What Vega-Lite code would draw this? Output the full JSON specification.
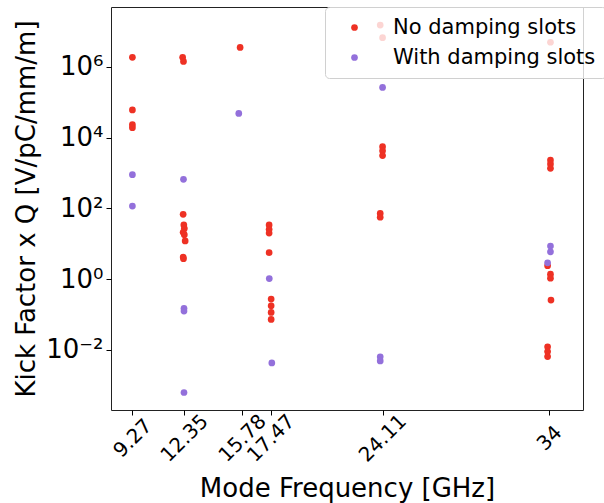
{
  "$schema": "https://vega.github.io/schema/vega-lite/v6.json",
  "width": 472,
  "height": 403,
  "autosize": {"type": "none"},
  "padding": {"left": 111, "top": 7, "right": 21, "bottom": 93},
  "background": "white",
  "config": {
    "font": "DejaVu Sans",
    "view": {"stroke": "#222", "strokeWidth": 1}
  },
  "data": {
    "values": [
      {"f": 9.27, "k": 1.84e6, "s": "No damping slots"},
      {"f": 9.27, "k": 6.0e4, "s": "No damping slots"},
      {"f": 9.27, "k": 2.3e4, "s": "No damping slots"},
      {"f": 9.27, "k": 1.9e4, "s": "No damping slots"},
      {"f": 12.25, "k": 1.84e6, "s": "No damping slots"},
      {"f": 12.3, "k": 1.41e6, "s": "No damping slots"},
      {"f": 12.28, "k": 68, "s": "No damping slots"},
      {"f": 12.32, "k": 34, "s": "No damping slots"},
      {"f": 12.35, "k": 27, "s": "No damping slots"},
      {"f": 12.28, "k": 21, "s": "No damping slots"},
      {"f": 12.35, "k": 18, "s": "No damping slots"},
      {"f": 12.4, "k": 12, "s": "No damping slots"},
      {"f": 12.28, "k": 4.2, "s": "No damping slots"},
      {"f": 12.3, "k": 3.8, "s": "No damping slots"},
      {"f": 15.66, "k": 3.5e6, "s": "No damping slots"},
      {"f": 17.38, "k": 34, "s": "No damping slots"},
      {"f": 17.38, "k": 25.5, "s": "No damping slots"},
      {"f": 17.38, "k": 20, "s": "No damping slots"},
      {"f": 17.38, "k": 5.6, "s": "No damping slots"},
      {"f": 17.5, "k": 0.274, "s": "No damping slots"},
      {"f": 17.5, "k": 0.177, "s": "No damping slots"},
      {"f": 17.5, "k": 0.115, "s": "No damping slots"},
      {"f": 17.5, "k": 0.073, "s": "No damping slots"},
      {"f": 23.97, "k": 1.5e7, "s": "No damping slots"},
      {"f": 24.11, "k": 6.6e6, "s": "No damping slots"},
      {"f": 24.11, "k": 5500, "s": "No damping slots"},
      {"f": 24.11, "k": 4200, "s": "No damping slots"},
      {"f": 24.11, "k": 3100, "s": "No damping slots"},
      {"f": 23.97, "k": 72, "s": "No damping slots"},
      {"f": 23.97, "k": 56, "s": "No damping slots"},
      {"f": 34.07, "k": 4.9e6, "s": "No damping slots"},
      {"f": 34.07, "k": 2300, "s": "No damping slots"},
      {"f": 34.07, "k": 1800, "s": "No damping slots"},
      {"f": 34.07, "k": 1350, "s": "No damping slots"},
      {"f": 33.9, "k": 2.4, "s": "No damping slots"},
      {"f": 34.07, "k": 1.38, "s": "No damping slots"},
      {"f": 34.07, "k": 1.07, "s": "No damping slots"},
      {"f": 34.1, "k": 0.257, "s": "No damping slots"},
      {"f": 33.9, "k": 0.0123, "s": "No damping slots"},
      {"f": 33.9, "k": 0.009, "s": "No damping slots"},
      {"f": 33.9, "k": 0.0065, "s": "No damping slots"},
      {"f": 9.27, "k": 890, "s": "With damping slots"},
      {"f": 9.27, "k": 116, "s": "With damping slots"},
      {"f": 12.3, "k": 660, "s": "With damping slots"},
      {"f": 12.33, "k": 0.15, "s": "With damping slots"},
      {"f": 12.33, "k": 0.126, "s": "With damping slots"},
      {"f": 12.33, "k": 0.00063, "s": "With damping slots"},
      {"f": 15.58, "k": 4.8e4, "s": "With damping slots"},
      {"f": 17.39, "k": 1.04, "s": "With damping slots"},
      {"f": 17.54, "k": 0.0043, "s": "With damping slots"},
      {"f": 24.11, "k": 2.6e5, "s": "With damping slots"},
      {"f": 23.97, "k": 0.0064, "s": "With damping slots"},
      {"f": 23.97, "k": 0.0049, "s": "With damping slots"},
      {"f": 34.07, "k": 8.6, "s": "With damping slots"},
      {"f": 34.07, "k": 5.9, "s": "With damping slots"},
      {"f": 33.9, "k": 2.9, "s": "With damping slots"}
    ]
  },
  "mark": {"type": "circle", "size": 45, "opacity": 1},
  "encoding": {
    "x": {
      "field": "f",
      "type": "quantitative",
      "scale": {"domain": [8.0, 36.0], "nice": false, "zero": false},
      "axis": {
        "values": [9.27, 12.35, 15.78, 17.47, 24.11, 34],
        "labelExpr": "datum.value + ''",
        "labelAngle": -45,
        "labelAlign": "center",
        "labelBaseline": "middle",
        "labelPadding": 23,
        "labelOverlap": false,
        "labelFontSize": 20,
        "labelColor": "#000",
        "tickColor": "#000",
        "tickSize": 5,
        "domain": false,
        "grid": false,
        "title": "Mode Frequency [GHz]",
        "titleFontSize": 26,
        "titleFontWeight": "normal",
        "titleColor": "#000",
        "titlePadding": 10
      }
    },
    "y": {
      "field": "k",
      "type": "quantitative",
      "scale": {"type": "log", "domain": [0.000202, 4.85e7], "nice": false},
      "axis": {
        "values": [0.01, 1, 100, 10000, 1000000],
        "labelExpr": "datum.value >= 1e6 ? '10⁶' : datum.value >= 1e4 ? '10⁴' : datum.value >= 100 ? '10²' : datum.value >= 1 ? '10⁰' : '10⁻²'",
        "labelFontSize": 26,
        "labelColor": "#000",
        "labelPadding": 3,
        "tickColor": "#000",
        "tickSize": 5,
        "domain": false,
        "grid": false,
        "title": "Kick Factor x Q [V/pC/mm/m]",
        "titleFontSize": 26,
        "titleFontWeight": "normal",
        "titleColor": "#000",
        "titlePadding": 6
      }
    },
    "color": {
      "field": "s",
      "type": "nominal",
      "scale": {"domain": ["No damping slots", "With damping slots"], "range": ["#ee3124", "#9370db"]},
      "legend": {
        "title": null,
        "orient": "none",
        "legendX": 214,
        "legendY": 0,
        "padding": 10,
        "symbolType": "circle",
        "symbolSize": 45,
        "symbolOffset": 9,
        "labelOffset": 28,
        "labelLimit": 400,
        "labelFontSize": 21,
        "labelColor": "#000",
        "rowPadding": 8,
        "fillColor": "rgba(255,255,255,0.8)",
        "strokeColor": "#d0d0d0",
        "cornerRadius": 4
      }
    }
  }
}
